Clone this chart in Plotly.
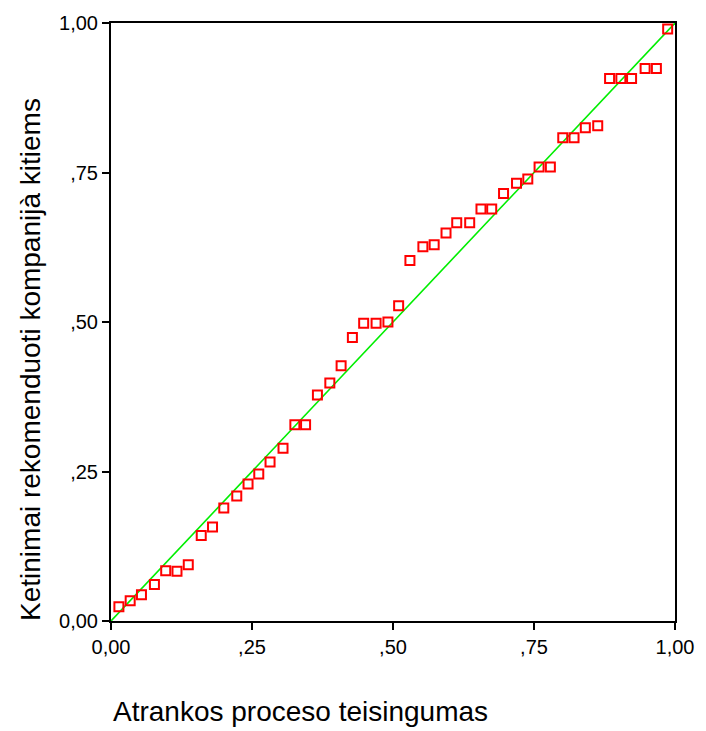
import plotly.graph_objects as go

# Data
x_vals = [0.014, 0.034, 0.054, 0.077, 0.097, 0.117, 0.137, 0.160, 0.180, 0.200,
          0.223, 0.243, 0.262, 0.282, 0.305, 0.326, 0.345, 0.366, 0.388, 0.408,
          0.428, 0.448, 0.470, 0.491, 0.510, 0.530, 0.553, 0.573, 0.594, 0.613,
          0.636, 0.656, 0.675, 0.696, 0.719, 0.739, 0.759, 0.779, 0.801, 0.821,
          0.841, 0.863, 0.884, 0.904, 0.923, 0.947, 0.967, 0.987]
y_vals = [0.024, 0.034, 0.044, 0.061, 0.084, 0.083, 0.094, 0.143, 0.157, 0.189,
          0.209, 0.229, 0.246, 0.266, 0.289, 0.328, 0.328, 0.378, 0.398, 0.427,
          0.474, 0.498, 0.498, 0.500, 0.527, 0.603, 0.626, 0.629, 0.649, 0.666,
          0.666, 0.689, 0.689, 0.715, 0.732, 0.739, 0.759, 0.759, 0.808, 0.808,
          0.825, 0.828, 0.907, 0.907, 0.907, 0.924, 0.924, 0.990]
ref_line = [0.0, 1.0]
tick_vals = [0.0, 0.25, 0.5, 0.75, 1.0]
tick_text = ["0,00", ",25", ",50", ",75", "1,00"]
x_title = "Atrankos proceso teisingumas"
y_title = "Ketinimai rekomenduoti kompanijà kitiems"

FONT = "Liberation Sans, Arial, sans-serif"

fig = go.Figure()
fig.add_trace(go.Scatter(x=ref_line, y=ref_line, mode="lines",
                         line=dict(color="#00ee00", width=1.6),
                         hoverinfo="skip", showlegend=False))
fig.add_trace(go.Scatter(x=x_vals, y=y_vals, mode="markers",
                         marker=dict(symbol="square-open", size=9, color="#ff0000",
                                     line=dict(width=2, color="#ff0000")),
                         showlegend=False))

axis_common = dict(range=[0, 1], showline=True, linecolor="black", linewidth=2,
                   mirror=True, showgrid=False, zeroline=False,
                   ticks="outside", ticklen=7, tickwidth=1.5, tickcolor="black",
                   tickvals=tick_vals, ticktext=tick_text,
                   tickfont=dict(family=FONT, size=20, color="black"))

fig.update_layout(
    width=706, height=731,
    margin=dict(l=111, r=26, t=16, b=110),
    paper_bgcolor="white", plot_bgcolor="white",
    xaxis=dict(**axis_common),
    yaxis=dict(**axis_common),
    font=dict(family=FONT, color="black"),
)

fig.add_annotation(text=x_title, xref="paper", yref="paper",
                   x=0.0, y=-0.152, xanchor="left", yanchor="middle",
                   showarrow=False,
                   font=dict(size=28, family=FONT, color="black"))
fig.add_annotation(text=y_title, xref="paper", yref="paper",
                   x=-0.1424, y=-0.003, xanchor="center", yanchor="bottom",
                   textangle=-90, showarrow=False,
                   font=dict(size=28, family=FONT, color="black"))

fig.write_html("out.html")
